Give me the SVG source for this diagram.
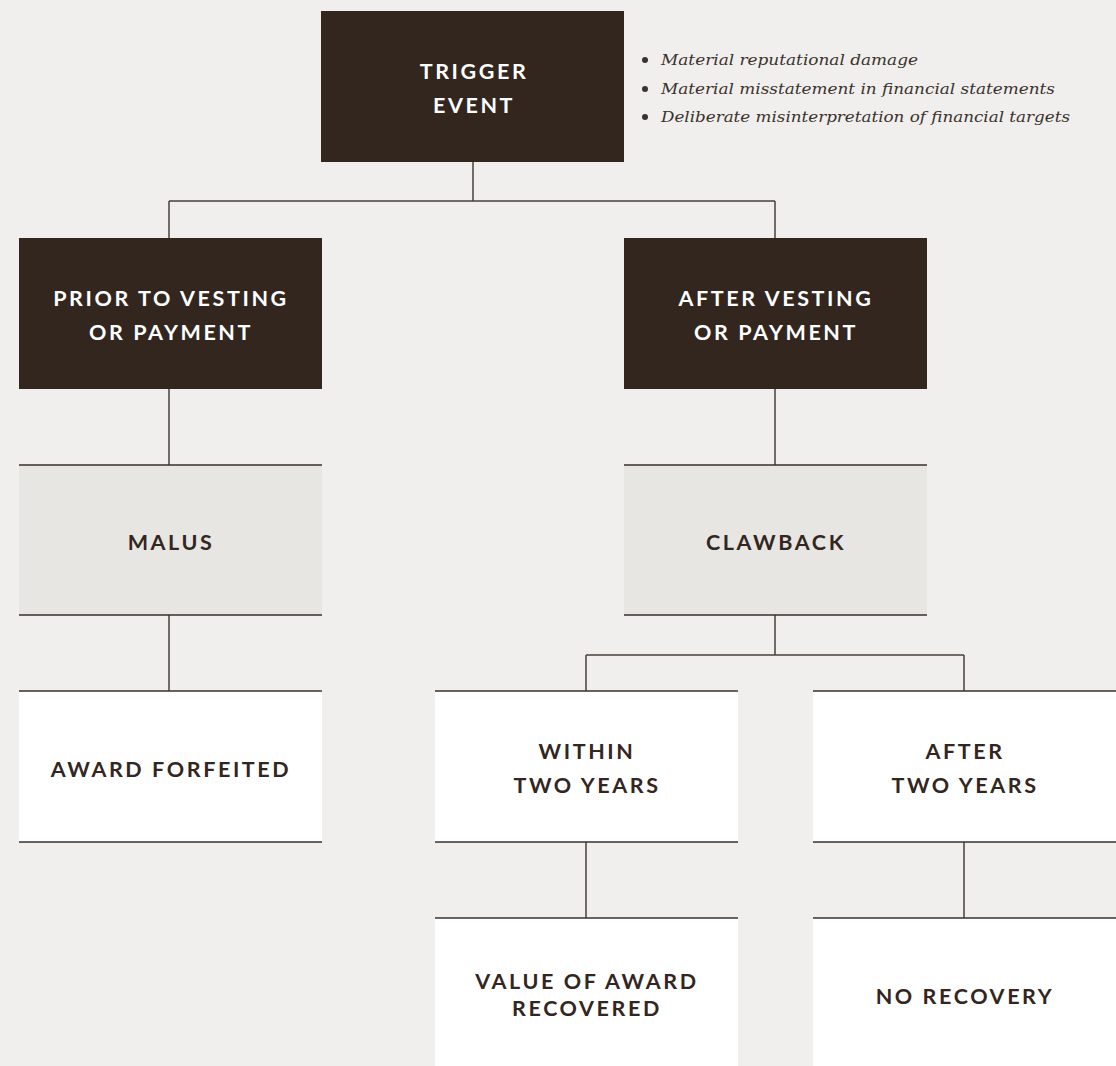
<svg xmlns="http://www.w3.org/2000/svg" width="1116" height="1066" viewBox="0 0 1116 1066">
<style>
.bg{fill:#f0efed}
.dark{fill:#32261f}
.grey{fill:#e7e6e2}
.white{fill:#ffffff}
.rule{stroke:#3a302a;stroke-width:1.5;fill:none}
.conn{stroke:#4a403a;stroke-width:1.5;fill:none}
.lbl{font-family:Lato,"Liberation Sans",sans-serif;font-weight:700;font-size:21.5px;letter-spacing:2.6px;text-anchor:middle}
.lt{fill:#ffffff}
.dk{fill:#32261f}
.note{font-family:"DejaVu Serif","Liberation Serif",serif;font-style:italic;font-size:15.5px;fill:#3a322c}
</style>
<rect class="bg" x="0" y="0" width="1116" height="1066"/>
<g id="connectors">
<path class="conn" d="M473 162V201M169 201H775M169 201V238M775 201V238"/>
<path class="conn" d="M169 389V465M775 389V465"/>
<path class="conn" d="M169 615V691"/>
<path class="conn" d="M775 615V655M586 655H964M586 655V691M964 655V691"/>
<path class="conn" d="M586 842V918M964 842V918"/>
</g>
<g id="trigger">
<rect class="dark" x="321" y="11" width="303" height="151"/>
<text class="lbl lt" x="474" y="79">TRIGGER</text>
<text class="lbl lt" x="474" y="113">EVENT</text>
</g>
<g id="notes">
<circle cx="645" cy="60" r="3" fill="#3a322c"/>
<circle cx="645" cy="89" r="3" fill="#3a322c"/>
<circle cx="645" cy="117" r="3" fill="#3a322c"/>
<text class="note" x="661" y="65" textLength="257" lengthAdjust="spacingAndGlyphs">Material reputational damage</text>
<text class="note" x="661" y="94" textLength="394" lengthAdjust="spacingAndGlyphs">Material misstatement in financial statements</text>
<text class="note" x="661" y="122" textLength="409" lengthAdjust="spacingAndGlyphs">Deliberate misinterpretation of financial targets</text>
</g>
<g id="prior">
<rect class="dark" x="19" y="238" width="303" height="151"/>
<text class="lbl lt" x="171" y="306">PRIOR TO VESTING</text>
<text class="lbl lt" x="171" y="340">OR PAYMENT</text>
</g>
<g id="after">
<rect class="dark" x="624" y="238" width="303" height="151"/>
<text class="lbl lt" x="776" y="306">AFTER VESTING</text>
<text class="lbl lt" x="776" y="340">OR PAYMENT</text>
</g>
<g id="malus">
<rect class="grey" x="19" y="465" width="303" height="150"/>
<path class="rule" d="M19 465H322M19 615H322"/>
<text class="lbl dk" x="171" y="550">MALUS</text>
</g>
<g id="clawback">
<rect class="grey" x="624" y="465" width="303" height="150"/>
<path class="rule" d="M624 465H927M624 615H927"/>
<text class="lbl dk" x="776" y="550">CLAWBACK</text>
</g>
<g id="forfeited">
<rect class="white" x="19" y="691" width="303" height="151"/>
<path class="rule" d="M19 691H322M19 842H322"/>
<text class="lbl dk" x="171" y="777">AWARD FORFEITED</text>
</g>
<g id="within">
<rect class="white" x="435" y="691" width="303" height="151"/>
<path class="rule" d="M435 691H738M435 842H738"/>
<text class="lbl dk" x="587" y="759">WITHIN</text>
<text class="lbl dk" x="587" y="793">TWO YEARS</text>
</g>
<g id="aftertwo">
<rect class="white" x="813" y="691" width="303" height="151"/>
<path class="rule" d="M813 691H1116M813 842H1116"/>
<text class="lbl dk" x="965" y="759">AFTER</text>
<text class="lbl dk" x="965" y="793">TWO YEARS</text>
</g>
<g id="recovered">
<rect class="white" x="435" y="918" width="303" height="148"/>
<path class="rule" d="M435 918H738"/>
<text class="lbl dk" x="587" y="989">VALUE OF AWARD</text>
<text class="lbl dk" x="587" y="1016">RECOVERED</text>
</g>
<g id="norecovery">
<rect class="white" x="813" y="918" width="303" height="148"/>
<path class="rule" d="M813 918H1116"/>
<text class="lbl dk" x="965" y="1004">NO RECOVERY</text>
</g>
</svg>
